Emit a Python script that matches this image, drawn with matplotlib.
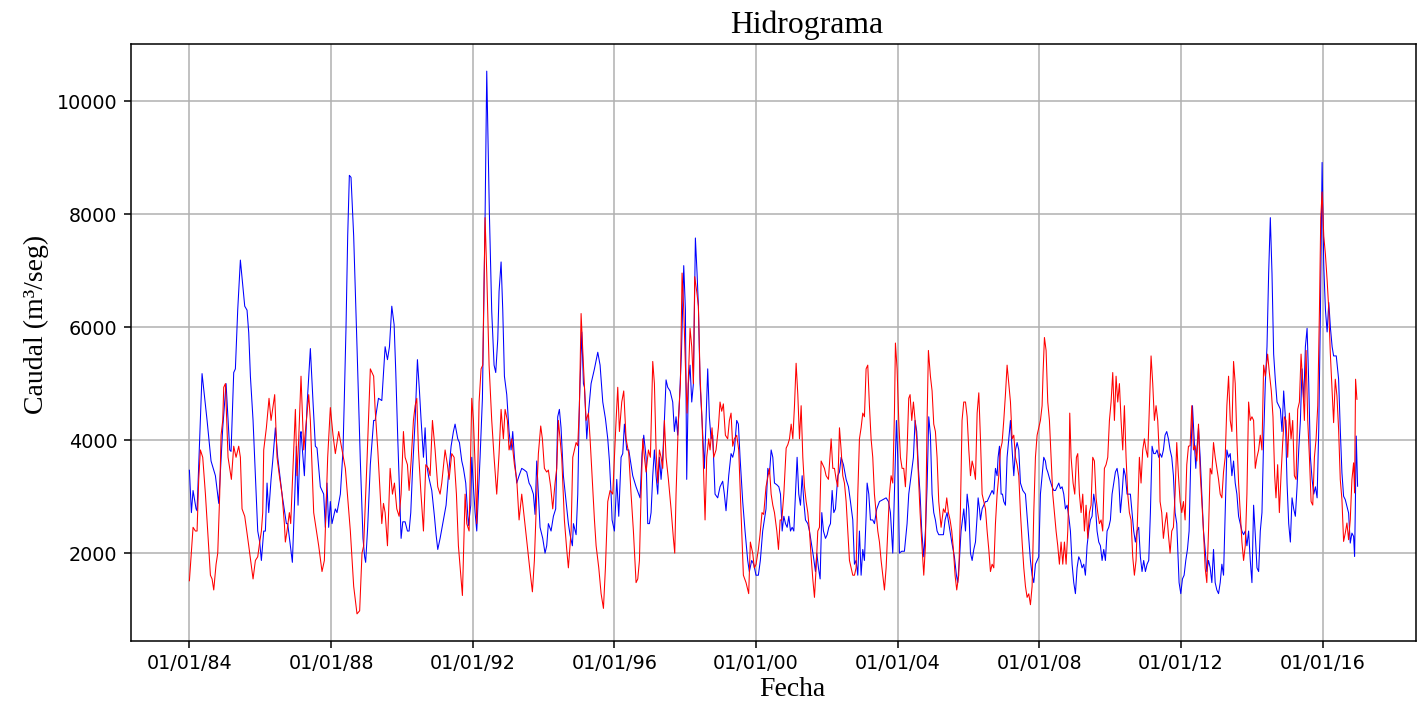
import numpy as np
import pandas as pd
import matplotlib
matplotlib.use("Agg")
import matplotlib.pyplot as plt
import matplotlib.dates as mdates

# Hidrograma: caudal diario 1984-2016
# tiempo en años decimales, caudal en m3/seg

t_azul = [
    1984.000, 1984.056, 1984.103, 1984.188, 1984.216, 1984.357, 1984.499, 1984.611, 1984.734, 1984.828,
    1984.941, 1985.035, 1985.138, 1985.176, 1985.251, 1985.298, 1985.364, 1985.439, 1985.562, 1985.627,
    1985.675, 1985.722, 1985.797, 1985.863, 1985.929, 1985.985, 1986.032, 1986.098, 1986.145, 1986.192,
    1986.239, 1986.305, 1986.352, 1986.427, 1986.493, 1986.615, 1986.738, 1986.775, 1986.850, 1986.907,
    1986.973, 1987.020, 1987.067, 1987.133, 1987.151, 1987.246, 1987.321, 1987.415, 1987.490, 1987.556,
    1987.603, 1987.697, 1987.791, 1987.838, 1987.885, 1987.932, 1987.979, 1988.026, 1988.120, 1988.167,
    1988.262, 1988.337, 1988.374, 1988.421, 1988.469, 1988.516, 1988.563, 1988.638, 1988.732, 1988.826,
    1988.901, 1988.948, 1988.976, 1989.033, 1989.108, 1989.202,
    1989.244, 1989.338, 1989.432, 1989.526, 1989.592, 1989.648, 1989.714, 1989.780, 1989.827, 1989.883,
    1989.977, 1990.024, 1990.090, 1990.156, 1990.203, 1990.250, 1990.297, 1990.373, 1990.438, 1990.495,
    1990.542, 1990.608, 1990.655, 1990.702, 1990.749, 1990.796, 1990.843, 1990.918, 1990.965, 1991.012,
    1991.078, 1991.172, 1991.247, 1991.313, 1991.389, 1991.454, 1991.501, 1991.577, 1991.624, 1991.690,
    1991.737, 1991.802, 1991.878, 1991.944, 1991.972, 1992.019, 1992.066, 1992.113, 1992.207, 1992.273,
    1992.348, 1992.395, 1992.470, 1992.536, 1992.602, 1992.649, 1992.706, 1992.743, 1992.800, 1992.847,
    1992.894, 1992.960, 1993.025, 1993.082, 1993.129, 1993.176, 1993.242, 1993.308, 1993.383, 1993.458,
    1993.524, 1993.590, 1993.646, 1993.712, 1993.759, 1993.806, 1993.853, 1993.900, 1993.976, 1994.041,
    1994.088, 1994.135, 1994.211, 1994.277, 1994.342, 1994.399, 1994.446, 1994.493, 1994.559, 1994.625,
    1994.700, 1994.747, 1994.813,
    1994.843, 1994.918, 1994.965, 1995.012, 1995.078, 1995.125, 1995.154, 1995.219, 1995.276, 1995.341,
    1995.436, 1995.530, 1995.595, 1995.671, 1995.746, 1995.812, 1995.859, 1995.906, 1995.934, 1996.000,
    1996.066, 1996.122, 1996.188, 1996.235, 1996.282, 1996.348, 1996.405, 1996.470, 1996.517, 1996.611,
    1996.687, 1996.724, 1996.781, 1996.828, 1996.894, 1996.941, 1996.988, 1997.035, 1997.082, 1997.129,
    1997.176, 1997.223, 1997.270, 1997.317, 1997.364, 1997.411, 1997.458, 1997.505, 1997.571, 1997.646,
    1997.693, 1997.740, 1997.787, 1997.834, 1997.891, 1997.957, 1998.004, 1998.041, 1998.088, 1998.135,
    1998.183, 1998.230, 1998.286, 1998.333, 1998.371, 1998.418, 1998.474, 1998.540, 1998.587, 1998.634,
    1998.681, 1998.728, 1998.775, 1998.841, 1998.916, 1998.982, 1999.057, 1999.104, 1999.151, 1999.227,
    1999.293, 1999.340, 1999.387, 1999.453, 1999.500, 1999.547, 1999.622, 1999.688, 1999.763, 1999.810,
    1999.876, 1999.932, 1999.998, 2000.064, 2000.120, 2000.186, 2000.280,
    2000.331, 2000.378, 2000.425, 2000.472, 2000.519, 2000.585, 2000.642, 2000.689, 2000.736, 2000.783,
    2000.830, 2000.877, 2000.924, 2000.971, 2001.018, 2001.065, 2001.112, 2001.158, 2001.205, 2001.253,
    2001.300, 2001.347, 2001.394, 2001.460, 2001.507, 2001.554, 2001.620, 2001.676, 2001.714, 2001.761,
    2001.808, 2001.855, 2001.902, 2001.959, 2002.006, 2002.053, 2002.100, 2002.147, 2002.194, 2002.241,
    2002.307, 2002.354, 2002.401, 2002.467, 2002.542, 2002.608, 2002.664, 2002.730, 2002.777, 2002.824,
    2002.871, 2002.918, 2002.965, 2003.012, 2003.059, 2003.106, 2003.135, 2003.182, 2003.229, 2003.294,
    2003.341, 2003.407, 2003.483, 2003.577, 2003.671, 2003.737, 2003.793, 2003.859, 2003.906, 2003.962,
    2004.000, 2004.047, 2004.113, 2004.188, 2004.263, 2004.310, 2004.376, 2004.442, 2004.489, 2004.536,
    2004.583, 2004.630, 2004.677, 2004.734, 2004.781, 2004.828, 2004.875, 2004.922, 2004.969, 2005.016,
    2005.063, 2005.110, 2005.157, 2005.223, 2005.289, 2005.336, 2005.392, 2005.458, 2005.524, 2005.599,
    2005.656, 2005.693, 2005.740, 2005.787,
    2005.865, 2005.912, 2005.959, 2006.006, 2006.053, 2006.100, 2006.147, 2006.194, 2006.241, 2006.269,
    2006.307, 2006.335, 2006.382, 2006.429, 2006.476, 2006.523, 2006.570, 2006.617, 2006.664, 2006.711,
    2006.758, 2006.805, 2006.833, 2006.871, 2006.918, 2006.956, 2006.993, 2007.040, 2007.087, 2007.135,
    2007.182, 2007.229, 2007.276, 2007.323, 2007.370, 2007.417, 2007.464, 2007.530, 2007.605, 2007.652,
    2007.699, 2007.746, 2007.793, 2007.840, 2007.887, 2007.934, 2007.981, 2008.028, 2008.075, 2008.122,
    2008.169, 2008.198, 2008.235, 2008.292, 2008.357, 2008.405, 2008.452, 2008.499, 2008.546, 2008.593,
    2008.640, 2008.687, 2008.734, 2008.781, 2008.828, 2008.875, 2008.922, 2008.969, 2009.016, 2009.063,
    2009.110, 2009.157, 2009.204, 2009.251, 2009.298, 2009.345, 2009.392, 2009.439, 2009.486, 2009.533,
    2009.580, 2009.627, 2009.675, 2009.722, 2009.769, 2009.816, 2009.863, 2009.910, 2009.957, 2010.004,
    2010.051, 2010.098, 2010.145, 2010.192, 2010.239, 2010.286, 2010.333, 2010.380, 2010.427, 2010.474,
    2010.521, 2010.568, 2010.615, 2010.662, 2010.709, 2010.756, 2010.803, 2010.850, 2010.897, 2010.944,
    2010.992, 2011.039, 2011.086, 2011.133, 2011.180, 2011.227, 2011.274, 2011.321, 2011.368,
    2011.406, 2011.453, 2011.500, 2011.547, 2011.594, 2011.642, 2011.689, 2011.736, 2011.783, 2011.830,
    2011.877, 2011.906, 2011.943, 2011.991, 2012.038, 2012.085, 2012.132, 2012.179, 2012.226, 2012.274,
    2012.321, 2012.368, 2012.415, 2012.443, 2012.491, 2012.538, 2012.585, 2012.632, 2012.679, 2012.726,
    2012.774, 2012.821, 2012.868, 2012.915, 2012.962, 2013.009, 2013.057, 2013.104, 2013.151, 2013.198,
    2013.245, 2013.292, 2013.340, 2013.387, 2013.434, 2013.481, 2013.528, 2013.575, 2013.623, 2013.670,
    2013.717, 2013.764, 2013.811, 2013.858, 2013.906, 2013.953, 2014.000, 2014.047, 2014.094, 2014.142,
    2014.189, 2014.236, 2014.283, 2014.330, 2014.377, 2014.425, 2014.472, 2014.519, 2014.566, 2014.613,
    2014.660, 2014.708, 2014.755, 2014.802, 2014.849, 2014.896, 2014.943, 2014.991, 2015.038, 2015.085,
    2015.132, 2015.179, 2015.226, 2015.274, 2015.321, 2015.368, 2015.415, 2015.462, 2015.509, 2015.557,
    2015.604, 2015.651, 2015.698, 2015.745, 2015.792, 2015.840, 2015.887, 2015.934, 2015.981, 2016.028,
    2016.075, 2016.123, 2016.170, 2016.217, 2016.264,
    2016.306, 2016.381, 2016.419, 2016.447, 2016.494, 2016.541, 2016.588, 2016.635, 2016.682, 2016.729,
    2016.776, 2016.823, 2016.870, 2016.898, 2016.917, 2016.945, 2016.983,
]

q_azul = [
    3467, 2717, 3108, 2783, 2750, 5177, 4348, 3630, 3370, 2880,
    4218, 5000, 3826, 3800, 5196, 5261, 6305, 7186, 6370, 6300,
    5900, 5130, 4348, 3370, 2391, 2196, 1870, 2390, 2390, 3240,
    2717, 3305, 3630, 4218, 3700, 3044, 2522, 2522, 2130, 1837,
    2978, 3890, 2848, 4087, 4150, 3370, 4610, 5620, 4674, 3892,
    3860, 3174, 3044, 2456, 3240, 2456, 2913, 2522, 2783, 2717,
    3044, 3826, 4740, 5980, 7610, 8686, 8650, 7610, 5653, 3630,
    2261, 1935, 1837, 2456, 3565, 4348,
    4348, 4740, 4700, 5653, 5424, 5653, 6370, 6044, 5196, 4022,
    2261, 2554, 2554, 2391, 2391, 2717, 3435, 4348, 5424, 4870,
    4348, 3696, 4218, 3565, 3370, 3240, 3109, 2652, 2326, 2065,
    2261, 2587, 2848, 3370, 3892, 4152, 4283, 4022, 3957, 3630,
    3500, 3240, 2489, 2848, 3696, 3174, 2717, 2391, 3696, 4740,
    7937, 10530, 8000, 6273, 5327, 5196, 5783, 6631, 7153, 6305,
    5131, 4805, 4152, 3826, 4152, 3696, 3240, 3370, 3500, 3470,
    3435, 3240, 3174, 3044, 2685, 3630, 3044, 2457, 2261, 2000,
    2130, 2522, 2391, 2652, 2783, 4413, 4544, 4218, 3370, 2978,
    2522, 2326, 2130,
    2522, 2326, 3044, 4674, 5914, 5000, 4935, 4022, 4544, 5000,
    5261, 5555, 5327, 4674, 4381, 4022, 3630, 3044, 2587, 2391,
    3305, 2652, 3696, 3761, 4283, 3826, 3826, 3565, 3370, 3174,
    3044, 2978, 3761, 4087, 3696, 2522, 2522, 2717, 3370, 3826,
    3370, 3044, 3696, 3305, 3696, 4348, 5066, 4935, 4870, 4674,
    4152, 4413, 4087, 4674, 5522, 7088, 6305, 3305, 5000, 5327,
    4674, 5000, 7577, 6957, 6370, 5000, 4348, 3500, 4348, 5261,
    4413, 4022, 4087, 3044, 2978, 3174, 3272, 3044, 2750, 3370,
    3761, 3696, 3826, 4348, 4283, 3696, 2913, 2391, 1870, 1674,
    1870, 1804, 1609, 1609, 1870, 2391, 2783,
    3500, 3400, 3826, 3696, 3240, 3210, 3174, 3044, 2391, 2652,
    2522, 2457, 2652, 2391, 2457, 2391, 3044, 3696, 3044, 2848,
    3370, 2913, 2587, 2522, 2391, 2196, 1935, 1674, 2000, 1739,
    1543, 2717, 2391, 2261, 2326, 2457, 2522, 3109, 2717, 2783,
    3370, 3435, 3696, 3565, 3305, 3174, 2913, 2587, 1804, 1870,
    1609, 2391, 1609, 2065, 1870, 2652, 3240, 3044, 2587, 2587,
    2522, 2783, 2913, 2945, 2978, 2913, 2717, 2000, 3044, 4348,
    3696, 2000, 2033, 2033, 2522, 3044, 3370, 3696, 4348, 4152,
    3500, 3044, 2391, 1935, 2391, 3174, 4413, 4087, 3044, 2717,
    2587, 2391, 2326, 2326, 2326, 2587, 2717, 2457, 2196, 1935,
    1609, 1478, 1870, 2391,
    2783, 2391, 3044, 2783, 2000, 1870, 2065, 2196, 2652, 2978,
    2783, 2587, 2783, 2848, 2913, 2913, 2978, 3044, 3109, 3044,
    3500, 3370, 3696, 3892, 3044, 3044, 2913, 2848, 3696, 4022,
    4348, 3826, 3370, 3826, 3957, 3826, 3240, 3109, 3044, 2652,
    2261, 1870, 1609, 1478, 1804, 1870, 1935, 3044, 3370, 3696,
    3630, 3500, 3435, 3305, 3174, 3109, 3109, 3174, 3240, 3141,
    3174, 3044, 2783, 2848, 2652, 2391, 1804, 1478, 1283, 1739,
    1935, 1870, 1739, 1804, 1609, 2130, 2391, 2587, 2652, 3044,
    2848, 2391, 2196, 2130, 1870, 2065, 1870, 2391, 2457, 2587,
    3044, 3240, 3435, 3500, 3305, 2717, 3044, 3500, 3370, 3044,
    3044, 3044, 2717, 2391, 2196, 2391, 2457, 1935, 1674, 1870,
    1674, 1804, 1870, 2717, 3892, 3761, 3761, 3826, 3696,
    3761, 3696, 3826, 4087, 4152, 4022, 3826, 3696, 3370, 2717,
    2522, 2065, 1478, 1283, 1543, 1609, 1870, 2065, 2391, 3696,
    4609, 4022, 3500, 3826, 4218, 3696, 3044, 2391, 2065, 1674,
    1870, 1739, 1478, 2065, 1478, 1348, 1283, 1478, 1804, 1609,
    2717, 3826, 3696, 3761, 3370, 3630, 3240, 3044, 2652, 2522,
    2391, 2326, 2391, 2130, 2391, 1870, 1478, 2848, 2326, 1739,
    1674, 2391, 2717, 4022, 5000, 5653, 6957, 7937, 6957, 5522,
    5066, 4674, 4610, 4550, 4152, 4870, 4413, 3240, 2522, 2196,
    2978, 2783, 2652, 3174, 3826, 4348, 5261, 4674, 5653, 5979,
    5000, 3696, 3305, 3044, 3174, 2978, 4218, 6305, 8914, 7088,
    6305, 5914, 6435, 5979, 5653,
    5490, 5490, 5256, 5078, 4190, 3420, 3006, 2947, 2829, 2710,
    2178, 2355, 2296, 1940, 2710, 4072, 3184,
]

t_rojo = [
    1984.000, 1984.103, 1984.169, 1984.216, 1984.263, 1984.310, 1984.376, 1984.452, 1984.517, 1984.593,
    1984.640, 1984.687, 1984.753, 1984.800, 1984.856, 1984.894, 1984.941, 1984.969, 1985.016, 1985.091,
    1985.185, 1985.251, 1985.317, 1985.392, 1985.439, 1985.486, 1985.562, 1985.675, 1985.797, 1985.863,
    1985.929, 1985.985, 1986.032, 1986.070, 1986.098, 1986.173, 1986.248, 1986.305, 1986.408, 1986.474,
    1986.540, 1986.615, 1986.681, 1986.709, 1986.756, 1986.822, 1986.860, 1986.992, 1987.039, 1987.086,
    1987.151, 1987.227, 1987.368, 1987.415, 1987.509, 1987.650, 1987.744, 1987.810, 1987.904, 1987.979,
    1988.055, 1988.120, 1988.215, 1988.309, 1988.403, 1988.544, 1988.638, 1988.732, 1988.807, 1988.873,
    1988.920, 1989.014, 1989.108, 1989.202,
    1989.244, 1989.319, 1989.385, 1989.432, 1989.479, 1989.526, 1989.592, 1989.667, 1989.733, 1989.789,
    1989.855, 1989.921, 1989.977, 1990.043, 1990.090, 1990.156, 1990.203, 1990.260, 1990.325, 1990.373,
    1990.420, 1990.467, 1990.532, 1990.608, 1990.674, 1990.749, 1990.796, 1990.862, 1990.937, 1991.012,
    1991.078, 1991.125, 1991.219, 1991.285, 1991.332, 1991.407, 1991.473, 1991.539, 1991.595, 1991.652,
    1991.708, 1991.784, 1991.831, 1991.897, 1991.934, 1991.972, 1992.019, 1992.066, 1992.113, 1992.179,
    1992.235, 1992.282, 1992.348, 1992.395, 1992.461, 1992.536, 1992.602, 1992.677, 1992.743, 1992.800,
    1992.865, 1992.913, 1992.978, 1993.025, 1993.101, 1993.176, 1993.242, 1993.308, 1993.383, 1993.439,
    1993.496, 1993.552, 1993.618, 1993.684, 1993.740, 1993.806, 1993.853, 1993.919, 1993.966, 1994.023,
    1994.088, 1994.135, 1994.201, 1994.258, 1994.324, 1994.371, 1994.418, 1994.465, 1994.512, 1994.587,
    1994.653, 1994.700,
    1994.777, 1994.824, 1994.871, 1994.918, 1994.965, 1995.012, 1995.059, 1995.125, 1995.200, 1995.266,
    1995.313, 1995.370, 1995.436, 1995.483, 1995.558, 1995.624, 1995.690, 1995.746, 1995.812, 1995.878,
    1995.953, 1996.047, 1996.094, 1996.141, 1996.207, 1996.263, 1996.329, 1996.405, 1996.470, 1996.536,
    1996.611, 1996.659, 1996.706, 1996.753, 1996.800, 1996.847, 1996.894, 1996.960, 1997.016, 1997.082,
    1997.129, 1997.176, 1997.223, 1997.270, 1997.317, 1997.364, 1997.411, 1997.458, 1997.524, 1997.599,
    1997.665, 1997.703, 1997.740, 1997.806, 1997.863, 1997.910, 1997.957, 1998.004, 1998.051, 1998.098,
    1998.135, 1998.183, 1998.230, 1998.267, 1998.324, 1998.371, 1998.418, 1998.474, 1998.521, 1998.559,
    1998.606, 1998.662, 1998.700, 1998.756, 1998.803, 1998.869, 1998.935, 1998.982, 1999.029, 1999.076,
    1999.133, 1999.198, 1999.246, 1999.293, 1999.340, 1999.387, 1999.453, 1999.509, 1999.575, 1999.641,
    1999.716, 1999.791, 1999.838, 1999.904, 1999.951, 1999.998, 2000.064, 2000.111, 2000.167, 2000.214,
    2000.280,
    2000.378, 2000.425, 2000.472, 2000.519, 2000.585, 2000.632, 2000.679, 2000.726, 2000.783, 2000.849,
    2000.896, 2000.943, 2000.990, 2001.037, 2001.084, 2001.130, 2001.178, 2001.225, 2001.272, 2001.319,
    2001.366, 2001.413, 2001.460, 2001.507, 2001.554, 2001.601, 2001.648, 2001.695, 2001.742, 2001.789,
    2001.836, 2001.883, 2001.930, 2001.977, 2002.043, 2002.119, 2002.166, 2002.213, 2002.260, 2002.307,
    2002.354, 2002.401, 2002.448, 2002.495, 2002.542, 2002.589, 2002.636, 2002.683, 2002.730, 2002.777,
    2002.824, 2002.871, 2002.918, 2002.965, 2003.012, 2003.059, 2003.106, 2003.153, 2003.200, 2003.247,
    2003.294, 2003.341, 2003.389, 2003.436, 2003.483, 2003.530, 2003.577, 2003.624, 2003.671, 2003.718,
    2003.765, 2003.812, 2003.859, 2003.906, 2003.934, 2003.981, 2004.028, 2004.075, 2004.122, 2004.169,
    2004.216, 2004.263, 2004.310, 2004.348, 2004.395, 2004.442, 2004.489, 2004.536, 2004.583, 2004.630,
    2004.677, 2004.734, 2004.781, 2004.828, 2004.865, 2004.922, 2004.969, 2005.016, 2005.063, 2005.110,
    2005.157, 2005.223, 2005.289, 2005.336, 2005.383, 2005.430, 2005.477, 2005.524, 2005.571, 2005.618,
    2005.665, 2005.721, 2005.768, 2005.815, 2005.863,
    2005.912, 2005.959, 2006.006, 2006.053, 2006.100, 2006.147, 2006.194, 2006.241, 2006.288, 2006.335,
    2006.382, 2006.429, 2006.476, 2006.523, 2006.570, 2006.617, 2006.664, 2006.711, 2006.758, 2006.805,
    2006.852, 2006.899, 2006.946, 2006.993, 2007.040, 2007.087, 2007.135, 2007.182, 2007.229, 2007.276,
    2007.323, 2007.370, 2007.417, 2007.464, 2007.511, 2007.558, 2007.605, 2007.652, 2007.699, 2007.746,
    2007.793, 2007.840, 2007.887, 2007.934, 2007.981, 2008.028, 2008.075, 2008.103, 2008.141, 2008.188,
    2008.235, 2008.282, 2008.329, 2008.376, 2008.423, 2008.470, 2008.517, 2008.564, 2008.611, 2008.659,
    2008.706, 2008.753, 2008.800, 2008.828, 2008.856, 2008.894, 2008.950, 2008.997, 2009.044, 2009.082,
    2009.129, 2009.176, 2009.223, 2009.270, 2009.317, 2009.364, 2009.411, 2009.458, 2009.505, 2009.552,
    2009.599, 2009.646, 2009.693, 2009.740, 2009.787, 2009.834, 2009.881, 2009.929, 2009.976, 2010.023,
    2010.070, 2010.117, 2010.164, 2010.211, 2010.258, 2010.305, 2010.352, 2010.399, 2010.446, 2010.493,
    2010.540, 2010.587, 2010.634, 2010.681, 2010.728, 2010.775, 2010.822, 2010.869, 2010.916, 2010.963,
    2011.010, 2011.057, 2011.105, 2011.152, 2011.199, 2011.246, 2011.293, 2011.340, 2011.387,
    2011.406, 2011.453, 2011.500, 2011.547, 2011.594, 2011.642, 2011.689, 2011.736, 2011.783, 2011.830,
    2011.877, 2011.925, 2011.972, 2012.019, 2012.066, 2012.113, 2012.160, 2012.208, 2012.255, 2012.302,
    2012.349, 2012.396, 2012.443, 2012.491, 2012.538, 2012.585, 2012.632, 2012.679, 2012.726, 2012.774,
    2012.821, 2012.868, 2012.915, 2012.962, 2013.009, 2013.057, 2013.104, 2013.151, 2013.198, 2013.245,
    2013.292, 2013.340, 2013.387, 2013.434, 2013.481, 2013.528, 2013.575, 2013.623, 2013.670, 2013.717,
    2013.764, 2013.811, 2013.858, 2013.906, 2013.953, 2014.000, 2014.047, 2014.094, 2014.142, 2014.189,
    2014.236, 2014.283, 2014.330, 2014.377, 2014.443, 2014.491, 2014.547, 2014.594, 2014.642, 2014.679,
    2014.726, 2014.774, 2014.821, 2014.868, 2014.915, 2014.962, 2015.009, 2015.057, 2015.104, 2015.151,
    2015.198, 2015.245, 2015.292, 2015.340, 2015.387, 2015.434, 2015.481, 2015.528, 2015.575, 2015.623,
    2015.670, 2015.717, 2015.764, 2015.811, 2015.858, 2015.906, 2015.943, 2015.981, 2016.028, 2016.075,
    2016.123, 2016.170,
    2016.212, 2016.306, 2016.353, 2016.400, 2016.447, 2016.494, 2016.541, 2016.588, 2016.635, 2016.682,
    2016.729, 2016.776, 2016.823, 2016.870, 2016.898, 2016.926, 2016.964,
]

q_rojo = [
    1511, 2457, 2391, 2391, 3305, 3826, 3696, 3044, 2391, 1609,
    1543, 1348, 1804, 2000, 3044, 4087, 4348, 4935, 5000, 3696,
    3305, 3892, 3696, 3892, 3696, 2783, 2652, 2130, 1543, 1870,
    1935, 2196, 2391, 2717, 3826, 4218, 4740, 4348, 4805, 3696,
    3370, 3044, 2522, 2196, 2391, 2717, 2522, 4544, 3370, 4022,
    5131, 3826, 4805, 4348, 2717, 2130, 1674, 1870, 3696, 4576,
    4087, 3761, 4152, 3826, 3500, 2391, 1413, 925, 980, 2000,
    2130, 3630, 5261, 5131,
    4544, 3826, 3044, 2522, 2880, 2717, 2130, 3500, 3044, 3240,
    2783, 2652, 3044, 4152, 3696, 3565, 3109, 3630, 4348, 4609,
    4740, 3826, 3109, 2391, 3565, 3500, 3370, 4348, 3826, 3174,
    3044, 3240, 3826, 3565, 3305, 3761, 3696, 3044, 2130, 1674,
    1250, 3044, 2522, 2391, 3565, 4740, 4348, 3565, 2522, 4674,
    5261, 5327, 7937, 6957, 5327, 4348, 3696, 3044, 3761, 4544,
    4022, 4544, 4348, 3826, 4022, 3565, 3305, 2587, 3044, 2717,
    2391, 2065, 1674, 1315, 1870, 3044, 3761, 4250, 4022, 3500,
    3435, 3470, 3174, 2783, 3240, 3500, 4348, 4022, 3696, 2587,
    2065, 1739,
    2391, 3696, 3826, 3957, 3900, 4609, 6240, 5327, 4348, 4478,
    4022, 3370, 2587, 2130, 1739, 1283, 1022, 1739, 2913, 3109,
    3044, 4348, 4935, 4152, 4674, 4870, 4022, 3761, 3044, 2391,
    1478, 1543, 1870, 3044, 4022, 3696, 3435, 3826, 3696, 5392,
    5000, 3826, 3240, 3826, 3696, 3500, 4348, 3696, 3305, 2783,
    2261, 2000, 3044, 4348, 5000, 6957, 6305, 5327, 4478, 5261,
    5979, 5653, 5000, 6892, 6631, 6370, 5131, 4348, 3370, 2587,
    3696, 4022, 3826, 4218, 3696, 3826, 4218, 4674, 4511, 4641,
    4087, 4022, 4348, 4478, 3892, 4022, 4087, 3826, 2717, 1609,
    1478, 1283, 2196, 2000, 1739, 1800, 2065, 2326, 2717, 2685,
    3174,
    3500, 3044, 2848, 2717, 2391, 2065, 2587, 2587, 3044, 3859,
    3920, 4022, 4283, 4022, 4609, 5360, 4805, 4022, 4609, 3696,
    3174, 2913, 2717, 2391, 1935, 1543, 1217, 1739, 2391, 2457,
    3630, 3565, 3500, 3370, 3305, 4022, 3500, 3500, 3305, 3174,
    4218, 3826, 3370, 3240, 2913, 2391, 1870, 1739, 1609, 1609,
    1739, 3044, 4022, 4218, 4478, 4413, 5261, 5327, 4609, 4022,
    3696, 3044, 2717, 2391, 2196, 1870, 1609, 1348, 1739, 2391,
    3044, 3370, 3240, 4478, 5718, 5261, 4348, 3696, 3500, 3500,
    3174, 3826, 4740, 4805, 4348, 4674, 4348, 4022, 3370, 2717,
    2196, 1609, 2130, 4348, 5587, 5131, 4870, 4283, 4152, 3696,
    2913, 2457, 2783, 2717, 2978, 2717, 2587, 2391, 2065, 1609,
    1348, 1609, 2717, 4348, 4674,
    4674, 4413, 3826, 3370, 3630, 3500, 3305, 4478, 4837, 4022,
    3044, 2913, 2783, 2391, 2065, 1674, 1804, 1739, 2522, 3044,
    3370, 3826, 3957, 4348, 4805, 5327, 5000, 4674, 4022, 4087,
    3696, 3565, 3370, 2717, 2196, 1739, 1413, 1217, 1280, 1087,
    1413, 2717, 3696, 4087, 4218, 4348, 4609, 5196, 5816, 5587,
    4674, 4348, 3696, 3044, 2717, 2391, 2130, 1804, 2196, 1804,
    2196, 1804, 2391, 3044, 4478, 3696, 3240, 3044, 3696, 3761,
    3044, 2717, 3044, 2391, 2848, 2261, 2717, 2848, 3696, 3630,
    2978, 2717, 2522, 2587, 2391, 3500, 3565, 3696, 4348, 4674,
    5196, 4348, 5131, 4674, 5000, 4348, 3826, 4609, 3696, 3044,
    2717, 2587, 1935, 1609, 1870, 2717, 3696, 3240, 3826, 4022,
    3826, 3696, 4609, 5490, 5000, 4348, 4609, 4348, 3696,
    2913, 2717, 2261, 2522, 2717, 2326, 2000, 2391, 2457, 3044,
    3957, 3370, 2913, 2717, 2913, 2587, 3565, 3892, 3900, 4609,
    3826, 3900, 3630, 4283, 3435, 2913, 2391, 1739, 1478, 2391,
    3500, 3400, 3957, 3700, 3500, 3305, 3044, 2978, 3435, 3696,
    4609, 5131, 4348, 4152, 5392, 5000, 4022, 3240, 2717, 2196,
    1870, 2130, 3044, 4674, 4348, 4413, 4348, 3500, 3696, 3826,
    4087, 3826, 5327, 5131, 5522, 5196, 4870, 4413, 3370, 2978,
    3565, 2717, 3370, 3957, 4413, 4348, 3696, 4478, 4022, 4348,
    3370, 3305, 4544, 4674, 5522, 5000, 4348, 5587, 4348, 3696,
    2913, 2850, 3696, 4022, 4609, 6305, 7937, 8392, 7610, 7284,
    6827, 6305,
    5550, 4309, 5078, 4782, 4190, 3302, 2947, 2207, 2355, 2533,
    2237, 2592, 3302, 3598, 3065, 5078, 4722,
]


def a_fecha(t):
    t = np.asarray(t, dtype=float)
    return pd.Timestamp("1984-01-01") + pd.to_timedelta((t - 1984.0) * 365.25, unit="D")


fecha_azul = a_fecha(t_azul)
fecha_rojo = a_fecha(t_rojo)

fig = plt.figure(figsize=(1426 / 138, 711 / 138), dpi=138)
ax = fig.add_axes([131 / 1426, 1 - 641 / 711, 1285 / 1426, 597 / 711])

ax.plot(fecha_azul, q_azul, color="blue", lw=0.55)
ax.plot(fecha_rojo, q_rojo, color="red", lw=0.55)

ax.grid(True)
ax.xaxis.set_major_locator(mdates.YearLocator(4))
ax.xaxis.set_major_formatter(mdates.DateFormatter("%d/%m/%y"))

serif = ["Liberation Serif", "DejaVu Serif"]
ax.set_title("Hidrograma", fontsize=16.5, family=serif, x=0.526)
ax.set_xlabel("Fecha", fontsize=14.5, family=serif, x=0.515, labelpad=2)
ax.set_ylabel("Caudal (m³/seg)", fontsize=14.5, family=serif, y=0.53)

fig.savefig("out.png", dpi=138)
